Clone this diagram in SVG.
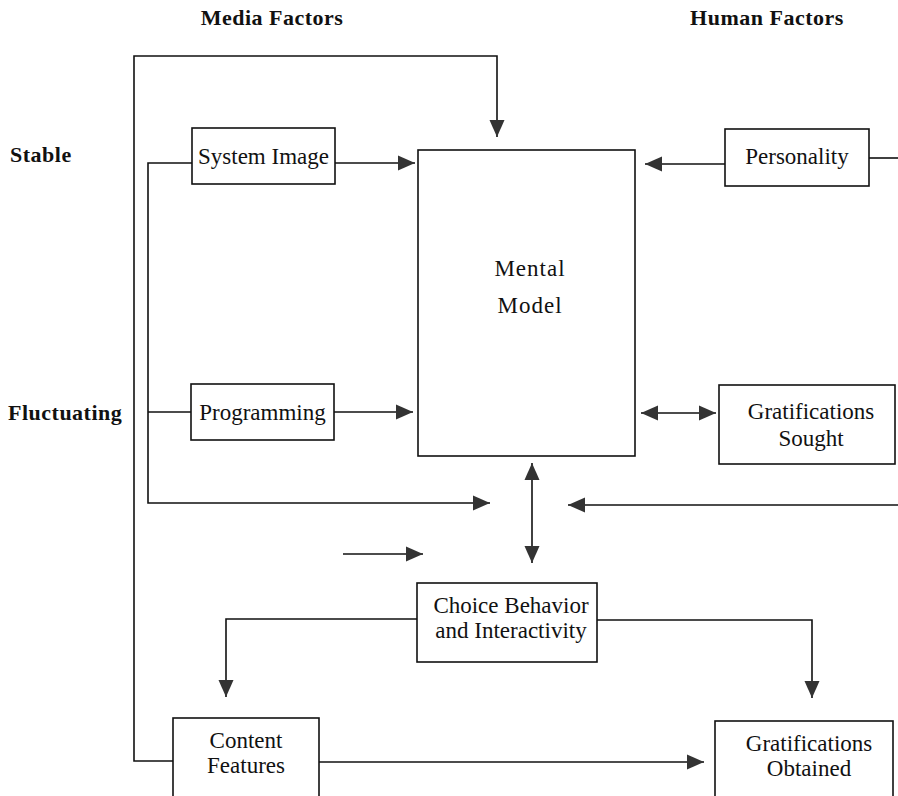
<svg xmlns="http://www.w3.org/2000/svg" width="898" height="796" viewBox="0 0 898 796">
<style>
  .box { fill: #fff; stroke: #111; stroke-width: 1.6; }
  .ln { fill: none; stroke: #111; stroke-width: 1.6; }
  .t { font-family: "Liberation Serif", "Times New Roman", serif; font-size: 23px; fill: #111; text-anchor: middle; }
  .h { font-family: "Liberation Serif", "Times New Roman", serif; font-size: 22px; font-weight: bold; fill: #111; letter-spacing: 0.5px; }
</style>
<defs>
  <marker id="ah" markerUnits="userSpaceOnUse" markerWidth="17" markerHeight="17" viewBox="0 0 17 17" refX="17" refY="8.5" orient="auto-start-reverse">
    <path d="M0,1 L17,8.5 L0,16 Z" fill="#333"/>
  </marker>
</defs>
<rect width="898" height="796" fill="#fff"/>

<g id="labels">
  <text class="h" x="272" y="25" text-anchor="middle">Media Factors</text>
  <text class="h" x="767" y="25" text-anchor="middle">Human Factors</text>
  <text class="h" x="10" y="162">Stable</text>
  <text class="h" x="8" y="420">Fluctuating</text>
</g>

<g id="connectors">
  <path class="ln" d="M173,761 L134,761 L134,56 L497,56 L497,137" marker-end="url(#ah)"/>
  <path class="ln" d="M335,163 L415,163" marker-end="url(#ah)"/>
  <path class="ln" d="M192,163 L148,163 L148,503 L490,503" marker-end="url(#ah)"/>
  <path class="ln" d="M148,412 L191,412"/>
  <path class="ln" d="M334,412 L413,412" marker-end="url(#ah)"/>
  <path class="ln" d="M725,164 L645,164" marker-end="url(#ah)"/>
  <path class="ln" d="M869,158 L898,158"/>
  <path class="ln" d="M641,413 L716,413" marker-start="url(#ah)" marker-end="url(#ah)"/>
  <path class="ln" d="M532,463 L532,563" marker-start="url(#ah)" marker-end="url(#ah)"/>
  <path class="ln" d="M898,505 L568,505" marker-end="url(#ah)"/>
  <path class="ln" d="M343,554 L423,554" marker-end="url(#ah)"/>
  <path class="ln" d="M417,619 L226,619 L226,697" marker-end="url(#ah)"/>
  <path class="ln" d="M597,620 L812,620 L812,698" marker-end="url(#ah)"/>
  <path class="ln" d="M319,762 L704,762" marker-end="url(#ah)"/>
</g>

<g id="system-image">
  <rect class="box" x="192" y="128" width="143" height="56"/>
  <text class="t" x="263.5" y="164">System Image</text>
</g>
<g id="programming">
  <rect class="box" x="191" y="384" width="143" height="56"/>
  <text class="t" x="262.5" y="420">Programming</text>
</g>
<g id="mental-model">
  <rect class="box" x="418" y="150" width="217" height="306"/>
  <text class="t" x="530" y="276" letter-spacing="1">Mental</text>
  <text class="t" x="530" y="313" letter-spacing="1">Model</text>
</g>
<g id="personality">
  <rect class="box" x="725" y="129" width="144" height="57"/>
  <text class="t" x="797" y="164">Personality</text>
</g>
<g id="gratifications-sought">
  <rect class="box" x="719" y="385" width="176" height="79"/>
  <text class="t" x="811" y="419">Gratifications</text>
  <text class="t" x="811" y="446">Sought</text>
</g>
<g id="choice-behavior">
  <rect class="box" x="417" y="583" width="180" height="79"/>
  <text class="t" x="511" y="613">Choice Behavior</text>
  <text class="t" x="511" y="638">and Interactivity</text>
</g>
<g id="content-features">
  <rect class="box" x="173" y="718" width="146" height="90"/>
  <text class="t" x="246" y="748">Content</text>
  <text class="t" x="246" y="773">Features</text>
</g>
<g id="gratifications-obtained">
  <rect class="box" x="715" y="721" width="178" height="90"/>
  <text class="t" x="809" y="751">Gratifications</text>
  <text class="t" x="809" y="776">Obtained</text>
</g>
</svg>
